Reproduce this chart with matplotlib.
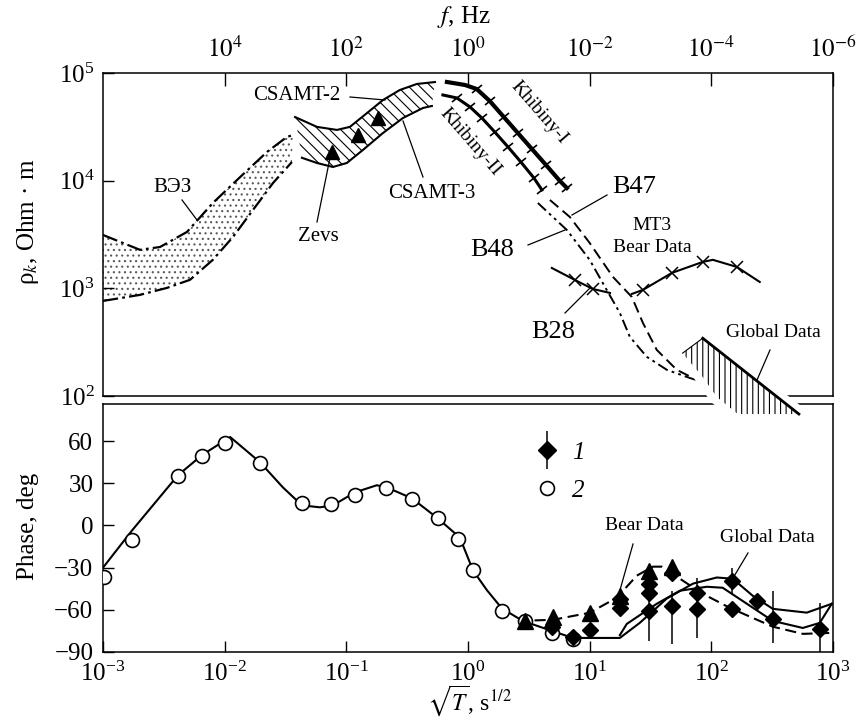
import numpy as np
import matplotlib
matplotlib.use("Agg")
import matplotlib.pyplot as plt
from matplotlib.lines import Line2D
from matplotlib.markers import MarkerStyle
from matplotlib.transforms import Affine2D
from matplotlib.ticker import LogFormatterMathtext, NullLocator, FixedLocator

plt.rcParams["font.family"] = ["Liberation Serif", "DejaVu Serif"]
plt.rcParams["mathtext.fontset"] = "stix"
plt.rcParams["hatch.linewidth"] = 0.8
plt.rcParams["lines.scale_dashes"] = False

# ---------------- upper panel: x = sqrt(T), s^1/2 ; y = rho_k, Ohm m
ves_top_x = [0.001, 0.00201, 0.00294, 0.0049, 0.0080, 0.0134, 0.0223, 0.0325, 0.0364]
ves_top_y = [3130, 2280, 2420, 3340, 6210, 10800, 18500, 25500, 26500]
ves_bot_x = [0.001, 0.00201, 0.00336, 0.00519, 0.0080, 0.0117, 0.0171, 0.0250, 0.0357]
ves_bot_y = [764, 869, 1010, 1200, 1840, 3000, 5350, 9530, 14900]

csamt2_x = [0.0379, 0.0573, 0.0837, 0.107, 0.148, 0.200, 0.275, 0.380, 0.535]
csamt2_y = [39000, 31600, 29600, 31600, 42500, 56100, 69500, 79100, 82400]
csamt3_x = [0.0432, 0.0573, 0.0776, 0.101, 0.137, 0.200, 0.292, 0.426, 0.505]
csamt3_y = [16300, 14600, 13400, 14600, 19300, 27700, 38200, 47300, 49400]

zevs_x = [0.0762, 0.1245, 0.182]
zevs_y = [18500, 26600, 38200]

khib1_x = [0.671, 0.944, 1.18, 1.51, 1.97, 2.57, 3.35, 4.37, 5.69, 6.50]
khib1_y = [82500, 77400, 71000, 54900, 39000, 27700, 19700, 14000, 9940, 8550]
khib2_x = [0.622, 0.811, 1.04, 1.30, 1.66, 2.13, 2.72, 3.48, 4.05]
khib2_y = [62500, 58600, 48300, 38200, 28300, 20600, 14900, 10600, 8200]

b47_x = [4.71, 6.87, 10.0, 15.5, 22.2, 27.4, 35.6, 52.0, 76.0]
b47_y = [6620, 4600, 2640, 1280, 832, 477, 268, 175, 141]
b48_x = [3.75, 6.50, 10.0, 13.8, 17.7, 21.4, 29.5, 43.1, 66.5, 85.1]
b48_y = [6210, 3480, 1840, 967, 591, 354, 231, 175, 147, 135]

mt3a_x = [4.89, 7.55, 10.6, 14.7]
mt3a_y = [1545, 1197, 987, 906]
mt3b_x = [22.2, 27.4, 47.3, 85.1, 103, 162, 250]
mt3b_y = [887, 967, 1390, 1760, 1840, 1580, 1146]

glob_x = [58, 85, 524, 165, 111, 85]
glob_y = [250, 344, 68, 68, 98, 150]

f_ticks = np.array([1e4, 1e2, 1e0, 1e-2, 1e-4, 1e-6])

# ---------------- lower panel: phase, deg
fit_x = [0.001, 0.00173, 0.00413, 0.0065, 0.0111, 0.0195, 0.0301, 0.0432, 0.0607,
         0.0776, 0.118, 0.178, 0.215, 0.346, 0.566, 0.857, 1.10, 1.43, 1.90, 2.82,
         4.89, 7.28, 17.7, 25.8, 43.0, 70.5, 111, 150, 219, 320, 609, 977]
fit_y = [-30, -3.6, 35.7, 50, 62.9, 45, 27.1, 14.3, 12.9, 14.3, 23.6, 28.6, 27.1,
         19.3, 5, -8.6, -32, -46, -59, -67.9, -75, -80, -80, -69.3, -52, -41.4,
         -37, -37.9, -50, -59.3, -62, -55.7]
fit2_x = [17.7, 20.2, 35.6, 55.1, 91.8, 124, 196, 320, 565, 778, 977]
fit2_y = [-78, -70, -55.7, -46.4, -43.6, -44.3, -55.7, -67.9, -72.9, -69.3, -55.7]
bear_x = [2.57, 4.99, 10.0, 16.7, 24.4, 33.1, 39.2, 58.4, 85.1, 142, 320, 565, 977]
bear_y = [-67.9, -67.1, -62.1, -51.4, -35.7, -29.3, -29.3, -39.3, -48.6, -58.6, -72, -77.1, -76.4]

circ_x = [0.00102, 0.00173, 0.00413, 0.0065, 0.0100, 0.0195, 0.0432, 0.0746, 0.118,
          0.211, 0.346, 0.566, 0.826, 1.10, 1.90, 2.94, 4.89, 7.28]
circ_y = [-36.4, -10, 35, 49.3, 58.6, 44.3, 15.7, 15, 22, 26.4, 18.6, 5, -9.3, -32,
          -60.7, -67.9, -76.4, -80.7]

diam_x = [4.89, 7.28, 10, 17.7, 17.7, 30.6, 30.6, 30.6, 47.3, 47.3, 76, 76, 147, 147, 237, 320, 778]
diam_y = [-72, -79.5, -74.3, -52, -58.6, -41.4, -47.9, -60.7, -34, -57, -47.9, -59.3,
          -39.3, -59.3, -53.6, -66.4, -73.6]
err_x = [30.6, 47.3, 76, 147, 320, 778]
err_lo = [-82.1, -84.3, -80, -48.6, -83.6, -90]
err_hi = [-44.3, -46.4, -37.1, -30, -46.4, -55]

tri_x = [2.94, 4.99, 10, 17.7, 30.6, 47.3]
tri_y = [-67.9, -65, -62.1, -50, -32.1, -29.3]

W, H = 862, 723
fig = plt.figure(figsize=(W / 100, H / 100), dpi=100)


def frame(l, t, r, b):
    return [l / W, 1 - b / H, (r - l) / W, (b - t) / H]


def at(x, y):
    return (x / W, 1 - y / H)


ax1 = fig.add_axes(frame(103, 73, 833, 396))
ax2 = fig.add_axes(frame(103, 404, 833, 652))
ax1.set_zorder(3)
ax1.patch.set_visible(False)

# ---- upper panel
ax1.set_xscale("log")
ax1.set_yscale("log")
ax1.set_xlim(1e-3, 1e3)
ax1.set_ylim(1e2, 1e5)

ves_dash = (11, 3, 2, 3)
ax1.fill(ves_top_x + ves_bot_x[::-1], ves_top_y + ves_bot_y[::-1],
         facecolor="white", edgecolor="0.35", hatch="...", lw=0, zorder=1)
ax1.plot(ves_top_x, ves_top_y, color="k", lw=1.6, dashes=ves_dash)
ax1.plot(ves_bot_x, ves_bot_y, color="k", lw=1.6, dashes=ves_dash)

ax1.fill(csamt2_x + csamt3_x[::-1], csamt2_y + csamt3_y[::-1],
         facecolor="white", edgecolor="k", hatch="\\\\\\", lw=0, zorder=1)
ax1.plot(csamt2_x, csamt2_y, color="k", lw=1.5)
ax1.plot(csamt3_x, csamt3_y, color="k", lw=1.5)
ax1.plot(zevs_x, zevs_y, ls="none", marker="^", ms=10, color="k")

tick_mark = MarkerStyle("|", transform=Affine2D().rotate_deg(-49))
ax1.plot(khib1_x, khib1_y, color="k", lw=3.0, marker=tick_mark, ms=9, mew=1.2,
         markevery=list(range(2, len(khib1_x))))
ax1.plot(khib2_x, khib2_y, color="k", lw=2.2, marker=tick_mark, ms=9, mew=1.2,
         markevery=list(range(1, len(khib2_x))))

ax1.plot(b47_x, b47_y, color="k", lw=1.4, dashes=(8, 4))
ax1.plot(b48_x, b48_y, color="k", lw=1.4, dashes=(8, 3, 2, 3, 2, 3))

ax1.plot(mt3a_x, mt3a_y, color="k", lw=1.5, marker="x", ms=9, mew=1.1, markevery=[1, 2])
ax1.plot(mt3b_x, mt3b_y, color="k", lw=1.5, marker="x", ms=9, mew=1.1, markevery=[1, 2, 3, 5])

# global data band crosses the frame, so clear a gap round it
ax1.fill(glob_x, glob_y, facecolor="white", edgecolor="white", lw=11, clip_on=False, zorder=6)
ax1.fill(glob_x, glob_y, facecolor="white", edgecolor="k", hatch="|||", lw=0, clip_on=False, zorder=7)
ax1.plot(glob_x[1:3], glob_y[1:3], color="k", lw=2.0, clip_on=False, zorder=8)
ax1.plot(glob_x[0:2], glob_y[0:2], color="k", lw=0.8, clip_on=False, zorder=8)

ax1.set_yticks([1e2, 1e3, 1e4, 1e5])
ax1.yaxis.set_major_formatter(LogFormatterMathtext())
ax1.yaxis.set_minor_locator(NullLocator())
ax1.xaxis.set_major_locator(FixedLocator(f_ticks ** -0.5))
ax1.set_xticklabels([r"$10^{%d}$" % round(np.log10(f)) for f in f_ticks])
ax1.xaxis.set_minor_locator(NullLocator())
ax1.tick_params(axis="x", top=True, bottom=False, labeltop=True, labelbottom=False,
                direction="in", length=9, width=1, pad=8, labelsize=18)
ax1.tick_params(axis="y", direction="in", length=8, width=1, pad=6, labelsize=18)

# ---- lower panel
ax2.set_xscale("log")
ax2.set_xlim(1e-3, 1e3)
ax2.set_ylim(-90, 86.4)
ax2.plot(fit_x, fit_y, color="k", lw=1.5, zorder=2)
ax2.plot(fit2_x, fit2_y, color="k", lw=1.5, zorder=2)
ax2.plot(bear_x, bear_y, color="k", lw=1.5, dashes=(8, 4), zorder=2)
ax2.vlines(err_x, err_lo, err_hi, color="k", lw=1.1, zorder=3)
ax2.plot(circ_x, circ_y, ls="none", marker="o", ms=10, mfc="white", mec="k", mew=1.2, zorder=4)
ax2.plot(tri_x, tri_y, ls="none", marker="^", ms=11, color="k", zorder=5)
ax2.plot(diam_x, diam_y, ls="none", marker="D", ms=8.5, color="k", zorder=5)

h1 = (Line2D([], [], ls="none", marker="|", ms=28, mew=1.1, color="k"),
      Line2D([], [], ls="none", marker="D", ms=9, color="k"))
h2 = Line2D([], [], ls="none", marker="o", ms=10, mfc="white", mec="k", mew=1.2)
ax2.legend([h1, h2], ["1", "2"], loc="upper left", bbox_to_anchor=at(512, 419),
           bbox_transform=fig.transFigure, frameon=False, handlelength=1.0,
           handletextpad=0.5, labelspacing=0.6, prop={"style": "italic", "size": 18})

ax2.set_xticks([1e-3, 1e-2, 1e-1, 1e0, 1e1, 1e2, 1e3])
ax2.xaxis.set_major_formatter(LogFormatterMathtext())
ax2.xaxis.set_minor_locator(NullLocator())
ax2.set_yticks([-90, -60, -30, 0, 30, 60])
ax2.tick_params(direction="in", length=8, width=1, labelsize=18)
ax2.tick_params(axis="x", pad=7)
ax2.tick_params(axis="y", pad=7)

for ax in (ax1, ax2):
    for s in ax.spines.values():
        s.set_linewidth(1.1)

# ---- axis titles
fig.text(*at(28, 222), r"ρ$_k$, Ohm · m", rotation=90, ha="center", va="center", fontsize=18)
fig.text(*at(28, 526), "Phase, deg", rotation=90, ha="center", va="center", fontsize=18)
fig.text(*at(464, 17), r"$f$, Hz", ha="center", va="center", fontsize=18)
fig.text(*at(470, 701), r"$\sqrt{T}$, s$^{1/2}$", ha="center", va="center", fontsize=17)

# ---- annotations (figure pixel positions)
labels = [
    ("CSAMT-2", 297, 95, 15, 0), ("Zevs", 318, 237, 15, 0), ("CSAMT-3", 432, 193, 15, 0),
    ("Khibiny-I", 539, 113, 14, -49), ("Khibiny-II", 470, 142, 14, -49),
    ("ВЭЗ", 173, 187, 15, 0), ("B47", 634, 187, 19, 0), ("B48", 492, 250, 19, 0),
    ("MT3", 652, 225, 14, 0), ("Bear Data", 652, 247, 14, 0), ("B28", 553, 332, 19, 0),
    ("Global Data", 773, 333, 14, 0), ("Bear Data", 644, 525, 14, 0),
    ("Global Data", 767, 538, 14, 0),
]
for s, x, y, size, rot in labels:
    fig.text(*at(x, y), s, ha="center", va="center", fontsize=size, rotation=rot, zorder=10)

leaders = [
    (350, 97, 385, 100), (317, 222, 331, 153), (423, 177, 403, 121), (182, 200, 197, 220),
    (607, 195, 572, 215), (528, 245, 565, 230), (565, 313, 590, 288), (770, 350, 757, 380),
    (633, 544, 620, 590), (748, 553, 733, 578),
]
for x1, y1, x2, y2 in leaders:
    fig.add_artist(Line2D([x1 / W, x2 / W], [1 - y1 / H, 1 - y2 / H],
                          transform=fig.transFigure, color="k", lw=0.9, zorder=10))

fig.savefig("out.png", dpi=100, facecolor="white")
